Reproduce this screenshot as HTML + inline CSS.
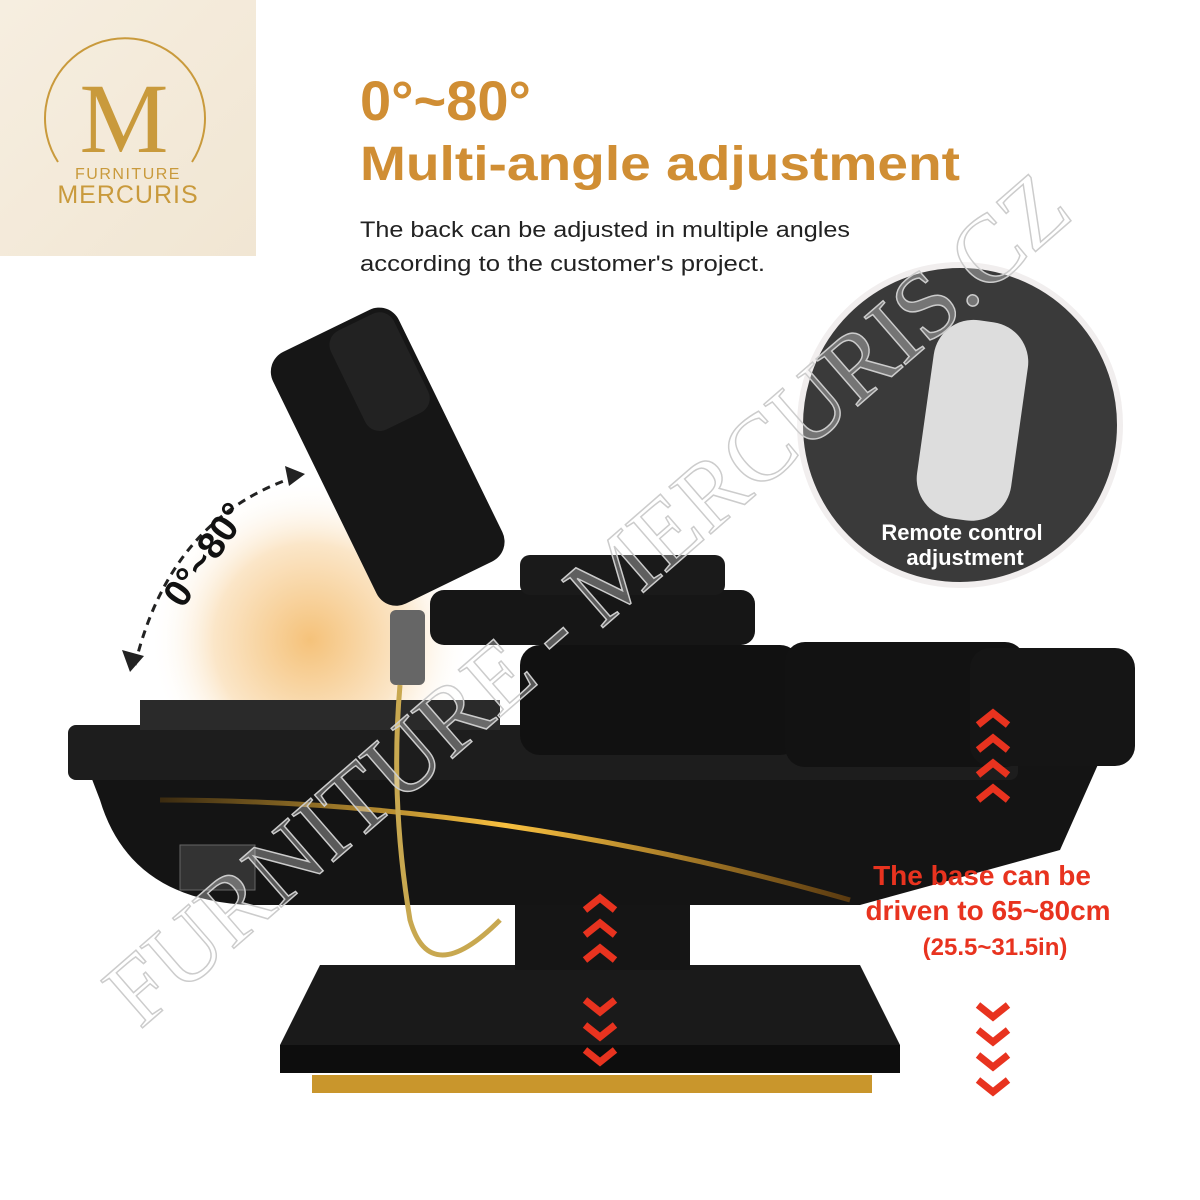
<!DOCTYPE html>
<html><head><meta charset="utf-8"><style>
body{margin:0;width:1200px;height:1200px;background:#fff;position:relative;overflow:hidden;font-family:"Liberation Sans",sans-serif}
.a{position:absolute}
</style></head><body>
<div class="a" style="left:0;top:0;width:256px;height:256px;background:linear-gradient(135deg,#f6eee0,#f1e6d3)"></div>
<svg class="a" style="left:0;top:0" width="1200" height="1200" viewBox="0 0 1200 1200">
 <defs>
  <radialGradient id="glow" cx="0.5" cy="0.5" r="0.5"><stop offset="0" stop-color="#f5c27a"/><stop offset="0.6" stop-color="#fbe6c8"/><stop offset="1" stop-color="#fff" stop-opacity="0"/></radialGradient>
  <linearGradient id="lt" x1="0" x2="1"><stop offset="0" stop-color="#3a2a10"/><stop offset="0.5" stop-color="#f8c040"/><stop offset="1" stop-color="#5a3a10"/></linearGradient>
 </defs>
 <path d="M58,162 A80,80 0 1,1 192,162" fill="none" stroke="#c99a3c" stroke-width="2"/>
 <text x="124" y="152" text-anchor="middle" font-family="Liberation Serif,serif" font-size="100" fill="#c99a3c">M</text>
 <text x="128" y="179" text-anchor="middle" font-size="16" fill="#c99a3c" letter-spacing="1.5">FURNITURE</text>
 <text x="128" y="203" text-anchor="middle" font-size="25" fill="#c99a3c" letter-spacing="1">MERCURIS</text>
 <text x="360" y="120" font-size="56" font-weight="bold" fill="#d08e34">0°~80°</text>
 <text x="360" y="180" font-size="48" font-weight="bold" fill="#d08e34" textLength="600" lengthAdjust="spacingAndGlyphs">Multi-angle adjustment</text>
 <text x="360" y="237" font-size="22" fill="#222" textLength="490" lengthAdjust="spacingAndGlyphs">The back can be adjusted in multiple angles</text>
 <text x="360" y="271" font-size="22" fill="#222" textLength="405" lengthAdjust="spacingAndGlyphs">according to the customer's project.</text>
 <circle cx="310" cy="640" r="160" fill="url(#glow)"/>
 <path d="M135,665 Q170,520 292,478" fill="none" stroke="#222" stroke-width="3" stroke-dasharray="8,6"/>
 <path d="M285,466 l20,8 -16,12z M122,650 l8,22 14,-16z" fill="#222"/>
 <text x="110" y="590" font-size="38" font-weight="bold" fill="#111" transform="rotate(-55 165 530)">0°~80°</text>
 <!-- base plate -->
 <path d="M320,965 L860,965 L900,1045 L280,1045 Z" fill="#1a1a1a"/>
 <rect x="280" y="1045" width="620" height="28" fill="#0d0d0d"/>
 <rect x="312" y="1075" width="560" height="18" fill="#c9962c"/>
 <rect x="515" y="880" width="175" height="90" fill="#151515"/>
 <!-- body -->
 <path d="M75,735 L1020,735 L1100,760 L1060,850 L860,905 L250,905 Q130,900 100,800 Z" fill="#141414"/>
 <path d="M160,800 Q500,800 850,900" fill="none" stroke="url(#lt)" stroke-width="5"/>
 <rect x="68" y="725" width="950" height="55" rx="8" fill="#1d1d1d"/>
 <rect x="180" y="845" width="75" height="45" fill="#333" stroke="#666"/>
 <rect x="140" y="700" width="360" height="30" fill="#2a2a2a"/>
 <!-- mattress -->
 <rect x="520" y="645" width="280" height="110" rx="20" fill="#111"/>
 <rect x="785" y="642" width="240" height="125" rx="20" fill="#121212"/>
 <rect x="970" y="648" width="165" height="118" rx="20" fill="#151515"/>
 <rect x="430" y="590" width="325" height="55" rx="14" fill="#161616"/>
 <rect x="520" y="555" width="205" height="40" rx="10" fill="#1a1a1a"/>
 <g transform="rotate(-26 390 450)">
  <rect x="315" y="315" width="140" height="280" rx="22" fill="#161616"/>
  <rect x="380" y="320" width="70" height="110" rx="16" fill="#222"/>
 </g>
 <rect x="390" y="610" width="35" height="75" rx="6" fill="#666"/>
 <path d="M400,685 Q390,800 410,920 Q430,990 500,920" fill="none" stroke="#c8a850" stroke-width="5"/>
 <!-- inset circle -->
 <circle cx="960" cy="425" r="160" fill="#3a3a3a" stroke="#f1eeee" stroke-width="6"/>
 <rect x="925" y="320" width="95" height="200" rx="40" fill="#ddd" transform="rotate(8 970 420)"/>
 <text x="962" y="540" text-anchor="middle" font-size="22" font-weight="bold" fill="#fff">Remote control</text>
 <text x="965" y="565" text-anchor="middle" font-size="22" font-weight="bold" fill="#fff">adjustment</text>
 <!-- red arrows -->
 <g fill="none" stroke="#e8331f" stroke-width="7">
  <path d="M978,725 l15,-12 15,12 M978,750 l15,-12 15,12 M978,775 l15,-12 15,12 M978,800 l15,-12 15,12"/>
  <path d="M585,910 l15,-12 15,12 M585,935 l15,-12 15,12 M585,960 l15,-12 15,12"/>
  <path d="M585,1000 l15,12 15,-12 M585,1025 l15,12 15,-12 M585,1050 l15,12 15,-12"/>
  <path d="M978,1005 l15,12 15,-12 M978,1030 l15,12 15,-12 M978,1055 l15,12 15,-12 M978,1080 l15,12 15,-12" />
 </g>
 <g font-weight="bold" fill="#e8331f" text-anchor="middle">
  <text x="982" y="885" font-size="28">The base can be</text>
  <text x="988" y="920" font-size="28">driven to 65~80cm</text>
  <text x="995" y="955" font-size="24">(25.5~31.5in)</text>
 </g>
 <text x="140" y="1030" font-family="Liberation Serif,serif" font-size="96" fill="#fff" fill-opacity="0.3" stroke="#ccc" stroke-width="1.5" textLength="1240" lengthAdjust="spacingAndGlyphs" transform="rotate(-41 140 1030)">FURNITURE - MERCURIS.CZ</text>
</svg>
</body></html>
